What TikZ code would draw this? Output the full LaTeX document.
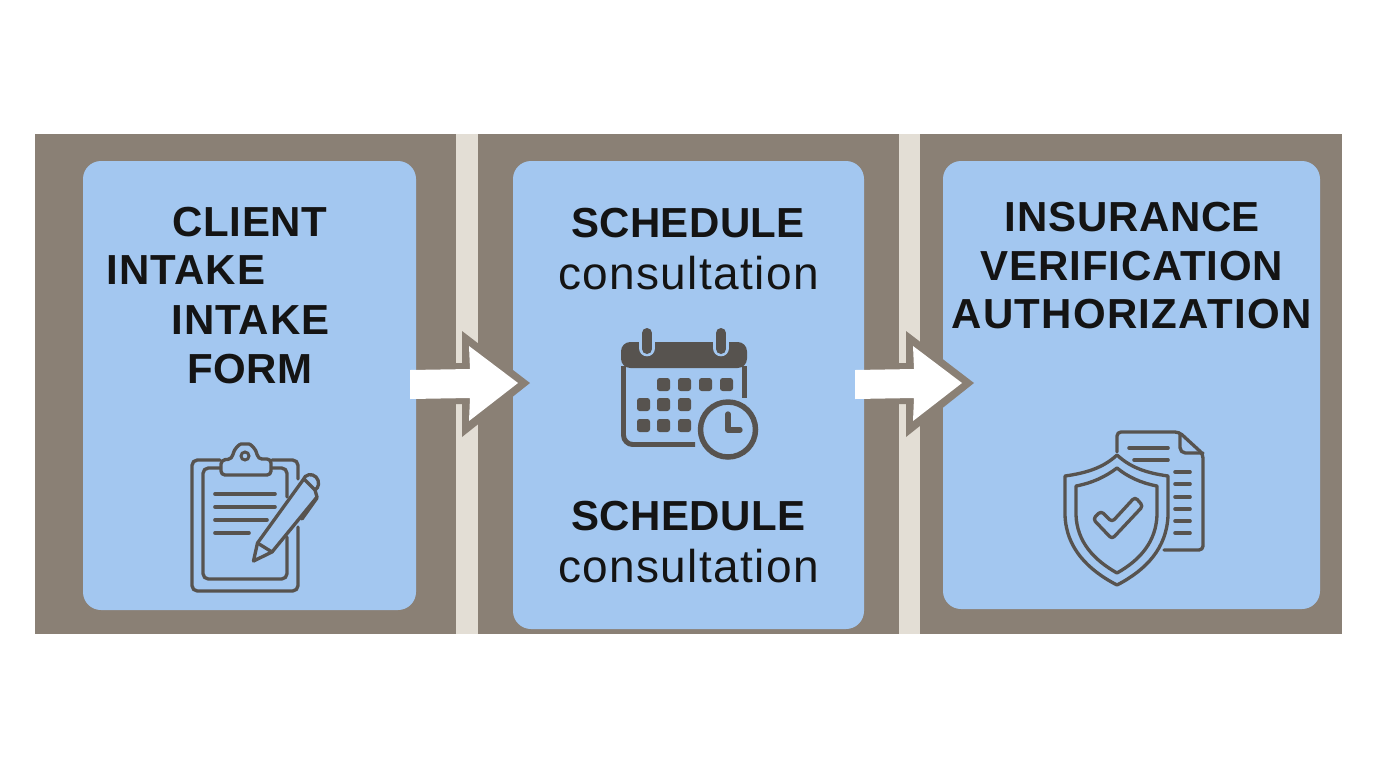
\documentclass[tikz,border=0pt]{standalone}
\usepackage{fontspec}
\setmainfont{Liberation Sans}
\usetikzlibrary{calc}
\definecolor{bandgray}{HTML}{8A8075}
\definecolor{stripbeige}{HTML}{E3DED5}
\definecolor{cardblue}{HTML}{A3C7F0}
\definecolor{icongray}{HTML}{57534F}
\definecolor{inkblack}{HTML}{141414}
\newcommand{\lsp}[1]{\addfontfeature{LetterSpace=#1}}
\tikzset{
  card/.style={fill=cardblue,rounded corners=13.5pt,inner sep=0pt,draw=none},
  head/.style={inner sep=0pt,anchor=base,text=inkblack,font=\fontsize{31.5pt}{36pt}\selectfont\bfseries},
  sub/.style={inner sep=0pt,anchor=base,text=inkblack,font=\fontsize{34.5pt}{40pt}\selectfont},
  ico/.style={draw=icongray,line width=2.5pt,line cap=round,line join=round,rounded corners=4pt},
  icoline/.style={draw=icongray,line width=2.7pt,line cap=round},
  cell/.style={fill=icongray,rounded corners=2pt}
}
\newcommand{\flowarrow}[2]{%
  \fill[bandgray] ($(#2)+(12,0)$) -- ($(#2)+(-56,-52)$) -- ($(#2)+(-56,-20)$) -- ($(#1)+(20,-20)$) -- ($(#1)+(20,21)$) -- ($(#2)+(-56,21)$) -- ($(#2)+(-56,54)$) -- cycle;
  \fill[white] (#2) -- ($(#2)+(-49,-37)$) -- ($(#2)+(-48,-14)$) -- ($(#1)+(0,-14)$) -- ($(#1)+(0,15)$) -- ($(#2)+(-48,15)$) -- ($(#2)+(-49,38)$) -- cycle;
}
\newcommand{\calcell}[2]{\fill[cell] (#1,#2) rectangle ++(13,13);}
\begin{document}
\begin{tikzpicture}[x=0.75pt,y=-0.75pt]
\useasboundingbox (0,0) rectangle (1376,768);
\fill[white] (0,0) rectangle (1376,768);
% band
\fill[bandgray] (35,134) rectangle (1342,634);
\fill[stripbeige] (456,134) rectangle (478,634);
\fill[stripbeige] (899,134) rectangle (920,634);
% cards
\node[card,minimum width=249.75pt,minimum height=336.75pt] (card1) at (249.5,385.5) {};
\node[card,minimum width=263.25pt,minimum height=351pt] (card2) at (688.5,395) {};
\node[card,minimum width=282.75pt,minimum height=336pt] (card3) at (1131.5,385) {};
% arrows
\coordinate (a1from) at (410,384);
\coordinate (a1to) at (518,383);
\coordinate (a2from) at (855,384);
\coordinate (a2to) at (962,383);
\flowarrow{a1from}{a1to}
\flowarrow{a2from}{a2to}
% text
\node[head] (t1) at (250,236) {\lsp{1.6}CLIENT};
\node[head] (t2) at (186,284) {\lsp{2.4}INTAKE};
\node[head] (t3) at (250.5,334) {\lsp{2.4}INTAKE};
\node[head] (t4) at (250,383) {\lsp{1.2}FORM};
\node[head] (t5) at (688,237) {\lsp{1}SCHEDULE};
\node[sub] (t6) at (688.5,289) {\lsp{3}consultation};
\node[head] (t7) at (688.5,530) {\lsp{1.3}SCHEDULE};
\node[sub] (t8) at (688.5,582) {\lsp{3}consultation};
\node[head] (t9) at (1132.5,231) {\lsp{1.6}INSURANCE};
\node[head] (t10) at (1132,280) {\lsp{2}VERIFICATION};
\node[head] (t11) at (1131.5,328) {\lsp{3.1}AUTHORIZATION};
% clipboard icon
\draw[ico] (220,460) -- (192,460) -- (192,591) -- (298,591) -- (298,527);
\draw[ico] (298,479) -- (298,460) -- (272,460);
\draw[ico] (220,468) -- (203,468) -- (203,579) -- (287,579) -- (287,537);
\draw[ico] (287,497) -- (287,468) -- (272,468);
\draw[ico,rounded corners=3pt] (221,460) -- (221,475) -- (271,475) -- (271,459) -- (258,459)
  .. controls (256,448) and (250,444) .. (245,444) .. controls (240,444) and (234,448) .. (232,459) -- cycle;
\draw[draw=icongray,line width=2.2pt] (245,456) circle (4);
\draw[icoline] (215,494) -- (275,494);
\draw[icoline] (215,507) -- (275,507);
\draw[icoline] (215,520) -- (267,520);
\draw[icoline] (215,533) -- (249,533);
\draw[draw=icongray,line width=2.5pt,line join=round,line cap=round,fill=cardblue] (253.5,561) -- (257.5,543) -- (303,480) .. controls (305,474) and (312,473) .. (316,477) .. controls (320,481) and (319,488) .. (315,490) -- (317,497) -- (272,552) -- cycle;
\draw[icoline,line width=2.5pt] (257.5,543) -- (272,552);
\draw[icoline,line width=2.5pt] (304,479) -- (315,490);
\draw[icoline,line width=2.5pt] (302,519) -- (317,498);
% calendar icon
\fill[icongray,rounded corners=7pt] (621,368) -- (621,342) -- (747,342) -- (747,368) -- cycle;
\draw[draw=icongray,line width=3.7pt,rounded corners=7pt] (623.5,366) -- (623.5,444.5) -- (695,444.5);
\draw[draw=icongray,line width=3.7pt] (744.5,366) -- (744.5,398);
\draw[draw=cardblue,line width=12.5pt,line cap=round] (647,335) -- (647,348);
\draw[draw=cardblue,line width=12.5pt,line cap=round] (721,335) -- (721,348);
\draw[draw=icongray,line width=7.5pt,line cap=round] (647,333) -- (647,349);
\draw[draw=icongray,line width=7.5pt,line cap=round] (721,333) -- (721,349);
\foreach \px in {657,678,699,720} {\calcell{\px}{378}}
\foreach \px in {637,657,678} {\calcell{\px}{398}}
\foreach \px in {637,657,678} {\calcell{\px}{419}}
\fill[cardblue] (728,429.5) circle (32);
\draw[draw=icongray,line width=4.1pt] (728,429.5) circle (27.5);
\draw[draw=icongray,line width=4pt,line cap=round,line join=round] (728,414) -- (728,430) -- (740,430);
% document icon
\draw[ico,rounded corners=3pt] (1117,452) -- (1117,432) -- (1179,432) -- (1203,454) -- (1203,550) -- (1164,550);
\draw[ico,rounded corners=4pt] (1180,434) -- (1180,453) -- (1203,453);
\draw[icoline] (1129,448) -- (1168,448);
\draw[icoline] (1134,460) -- (1168,460);
\foreach \py in {472,484,497,509,521,533} {\draw[icoline] (1175,\py) -- (1190,\py);}
% shield icon
\draw[draw=icongray,line width=2.5pt,line join=round] (1117,455) .. controls (1103,468) and (1086,473) .. (1065,476) -- (1065,515) .. controls (1066,548) and (1088,570) .. (1117,585) .. controls (1146,570) and (1167,548) .. (1168,515) -- (1168,476) .. controls (1147,473) and (1131,468) .. (1117,455) -- cycle;
\draw[draw=icongray,line width=2.5pt,line join=round] (1117,468) .. controls (1105,477) and (1092,483) .. (1076,486) -- (1076,515) .. controls (1077,542) and (1094,560) .. (1117,573) .. controls (1140,560) and (1156,542) .. (1157,515) -- (1157,486) .. controls (1141,483) and (1128,477) .. (1117,468) -- cycle;
\draw[ico,rounded corners=2.5pt] (1093,519) -- (1101,511) -- (1112,522) -- (1135,497) -- (1143,506) -- (1112,539) -- cycle;
\end{tikzpicture}
\end{document}
